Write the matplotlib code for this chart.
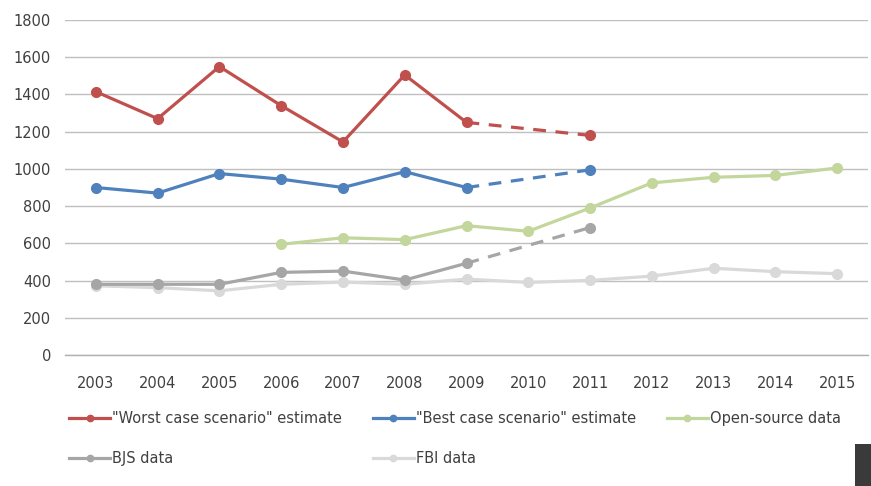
import numpy as np
import matplotlib.pyplot as plt
from matplotlib.patches import Rectangle

years = [2003, 2004, 2005, 2006, 2007, 2008, 2009, 2010, 2011, 2012, 2013, 2014, 2015]

worst_years = [2003, 2004, 2005, 2006, 2007, 2008, 2009]
worst = [1415, 1270, 1550, 1340, 1145, 1505, 1250]
worst_proj_years = [2009, 2011]
worst_proj = [1250, 1180]

best_years = [2003, 2004, 2005, 2006, 2007, 2008, 2009]
best = [900, 870, 975, 945, 900, 985, 900]
best_proj_years = [2009, 2011]
best_proj = [900, 995]

open_years = [2006, 2007, 2008, 2009, 2010, 2011, 2012, 2013, 2014, 2015]
open_src = [595, 630, 620, 695, 665, 790, 925, 955, 965, 1005]

bjs_years = [2003, 2004, 2005, 2006, 2007, 2008, 2009]
bjs = [380, 380, 380, 444, 451, 403, 493]
bjs_proj_years = [2009, 2011]
bjs_proj = [493, 685]

fbi = [372, 362, 345, 380, 392, 380, 408, 390, 401, 424, 466, 448, 437]

labels = ['"Worst case scenario" estimate', '"Best case scenario" estimate',
          'Open-source data', 'BJS data', 'FBI data']
colors = ['#C0504D', '#4F81BD', '#C3D69B', '#A6A6A6', '#D9D9D9']

fig = plt.figure(figsize=(8.71, 4.86), dpi=100)
ax = fig.add_axes([0.0746, 0.2695, 0.922, 0.6893])

lw = 2.3
ms = 7
dash = (0, (4, 3))
# light lines first so the darker ones sit on top
ax.plot(years, fbi, color=colors[4], lw=lw, marker='o', ms=ms, label=labels[4], zorder=3)
ax.plot(bjs_years, bjs, color=colors[3], lw=lw, marker='o', ms=ms, label=labels[3], zorder=4)
ax.plot(bjs_proj_years, bjs_proj, color=colors[3], lw=lw, ls=dash, marker='o', ms=ms,
        markevery=[1], zorder=4)
ax.plot(open_years, open_src, color=colors[2], lw=lw, marker='o', ms=ms, label=labels[2], zorder=5)
ax.plot(best_years, best, color=colors[1], lw=lw, marker='o', ms=ms, label=labels[1], zorder=6)
ax.plot(best_proj_years, best_proj, color=colors[1], lw=lw, ls=dash, marker='o', ms=ms,
        markevery=[1], zorder=6)
ax.plot(worst_years, worst, color=colors[0], lw=lw, marker='o', ms=ms, label=labels[0], zorder=7)
ax.plot(worst_proj_years, worst_proj, color=colors[0], lw=lw, ls=dash, marker='o', ms=ms,
        markevery=[1], zorder=7)

ax.set_xlim(2002.5, 2015.5)
ax.set_ylim(0, 1800)
ax.set_yticks(np.arange(0, 1801, 200))
ax.set_xticks(years)
ax.grid(axis='y', color='#BFBFBF', lw=1)
ax.axhline(0, color='#B0B0B0', lw=1, clip_on=False, zorder=1)
ax.set_axisbelow(True)
for s in ax.spines.values():
    s.set_visible(False)
ax.tick_params(length=0, labelsize=10.5, colors='#404040')
ax.tick_params(axis='x', pad=15)
ax.tick_params(axis='y', pad=10)

# legend fills column by column, so order it to read row by row
handles, labs = ax.get_legend_handles_labels()
leg_order = [labels[0], labels[3], labels[1], labels[4], labels[2]]
idx = [labs.index(l) for l in leg_order]
fig.legend([handles[i] for i in idx], [labs[i] for i in idx],
           loc='upper left', bbox_to_anchor=(0.068, 0.175), ncol=3, frameon=False,
           fontsize=10.5, handlelength=2.8, handletextpad=0.15, columnspacing=2.1,
           labelspacing=1.7, markerscale=0.65, labelcolor='#404040', borderpad=0.2)

fig.patches.append(Rectangle((855 / 871, 0), 16 / 871, 42 / 486, transform=fig.transFigure,
                             facecolor='#3a3a3a', edgecolor='none'))

plt.savefig('out.png', dpi=100)
